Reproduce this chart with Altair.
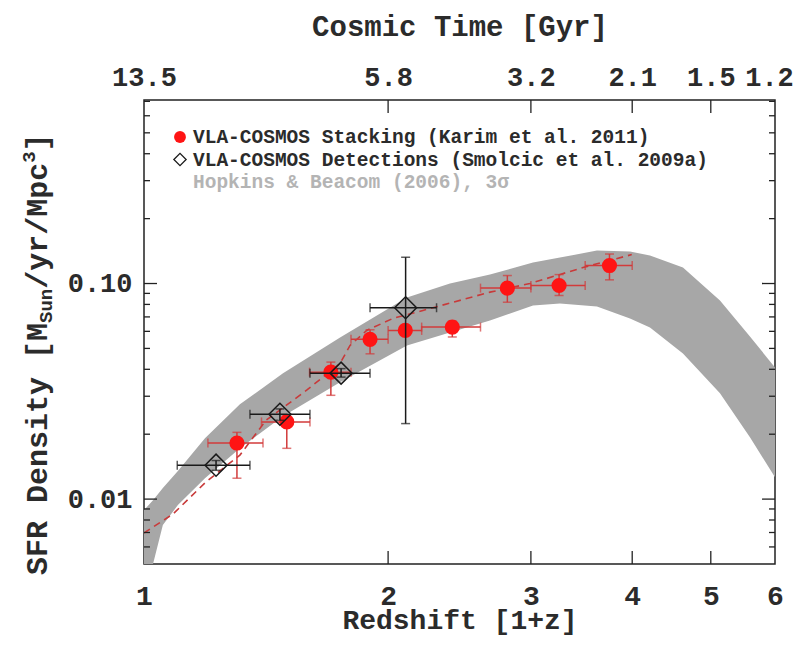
import altair as alt
import pandas as pd

# ---------------- data ----------------
# VLA-COSMOS stacking (red circles)
red_x = [1.302, 1.50, 1.70, 1.90, 2.10, 2.40, 2.806, 3.25, 3.75]
red_y = [0.0182, 0.0228, 0.0388, 0.0551, 0.0606, 0.0628, 0.0952, 0.0979, 0.1212]
red_xlo = [1.199, 1.396, 1.60, 1.80, 2.00, 2.20, 2.60, 3.00, 3.50]
red_xhi = [1.402, 1.602, 1.80, 2.00, 2.20, 2.60, 3.00, 3.50, 4.00]
red_ylo = [0.0125, 0.0172, 0.0303, 0.0472, 0.0575, 0.0565, 0.0819, 0.088, 0.104]
red_yhi = [0.0204, 0.0245, 0.0432, 0.061, 0.064, 0.0669, 0.1089, 0.110, 0.137]

# VLA-COSMOS detections (open diamonds)
det_x = [1.227, 1.471, 1.750, 2.102]
det_y = [0.01437, 0.02474, 0.0384, 0.0772]
det_xlo = [1.099, 1.351, 1.602, 1.900]
det_xhi = [1.351, 1.602, 1.900, 2.295]
det_ylo = [0.0136, 0.0232, 0.0368, 0.0224]
det_yhi = [0.0151, 0.0262, 0.0403, 0.1324]

# dashed fit
fit_x = [1.000, 1.086, 1.192, 1.313, 1.414, 1.587, 1.745, 1.795, 1.882, 2.028, 2.208, 2.671, 2.992, 3.478, 3.995]
fit_y = [0.00696, 0.00853, 0.0120, 0.0160, 0.0232, 0.0320, 0.0426, 0.0516, 0.0606, 0.0689, 0.0750, 0.0912, 0.100, 0.1186, 0.1362]

# Hopkins & Beacom (2006) 3-sigma band
band_x = [1.000, 1.026, 1.055, 1.101, 1.189, 1.313, 1.484, 1.745, 2.110, 2.384, 2.671, 3.018, 3.258, 3.619, 3.975, 4.207, 4.620, 5.132, 5.588, 6.000]
band_hi = [0.00889, 0.00989, 0.01125, 0.01349, 0.01916, 0.02754, 0.03831, 0.05623, 0.0861, 0.1000, 0.1101, 0.1251, 0.1319, 0.1421, 0.1406, 0.1348, 0.1186, 0.0834, 0.0568, 0.0408]
band_lo = [0.00341, 0.00500, 0.00758, 0.00938, 0.01251, 0.01722, 0.02423, 0.03480, 0.05164, 0.05930, 0.06742, 0.07906, 0.08078, 0.07822, 0.06887, 0.06257, 0.04742, 0.03096, 0.01936, 0.01264]

# axes
x_ticks = [1, 2, 3, 4, 5, 6]
x_inner_ticks = [2, 3, 4, 5]
cosmic_time_labels = ["13.5", "5.8", "3.2", "2.1", "1.5", "1.2"]
y_major = [0.01, 0.1]
y_minor = [0.006, 0.007, 0.008, 0.009, 0.02, 0.03, 0.04, 0.05, 0.06, 0.07, 0.08, 0.09,
           0.2, 0.3, 0.4, 0.5, 0.6, 0.7]

legend_labels = ["VLA-COSMOS Stacking (Karim et al. 2011)",
                 "VLA-COSMOS Detections (Smolcic et al. 2009a)",
                 "Hopkins & Beacom (2006), 3\u03c3"]
x_title = "Redshift [1+z]"
top_title = "Cosmic Time [Gyr]"
y_title_parts = ["SFR Density [M", "Sun", "/yr/Mpc", "3", "]"]

# ---------------- layout / style ----------------
W, H = 631, 464
FONT = "Liberation Mono"
TXT = "#2b2b2b"
RED = "#ff1414"
RED_BAR = "#d23a3a"
MAJ, MIN = 13, 6

xs = alt.Scale(type="log", domain=[1, 6], nice=False)
ys = alt.Scale(type="log", domain=[0.005, 0.71], nice=False)

df_band = pd.DataFrame({"x": band_x, "hi": band_hi, "lo": band_lo})
df_fit = pd.DataFrame({"x": fit_x, "y": fit_y})
df_red = pd.DataFrame({"x": red_x, "y": red_y, "xlo": red_xlo, "xhi": red_xhi,
                       "ylo": red_ylo, "yhi": red_yhi})
df_det = pd.DataFrame({"x": det_x, "y": det_y, "xlo": det_xlo, "xhi": det_xhi,
                       "ylo": det_ylo, "yhi": det_yhi})

bottom_axis = alt.Axis(orient="bottom", values=x_ticks, format="d", title=x_title,
                       domain=False, ticks=False, tickSize=0, grid=False,
                       labelFlush=False, labelOverlap=False,
                       labelFontSize=28, labelBaseline="alphabetic", labelPadding=40,
                       titleFontSize=28, titleBaseline="alphabetic", titleY=64)
left_axis = alt.Axis(orient="left", values=y_major, format=".2f", title=None,
                     domain=False, ticks=False, tickSize=0, grid=False,
                     labelFlush=False, labelOverlap=False,
                     labelFontSize=27, labelPadding=12)

expr = ""
for v, lab in zip(x_ticks, cosmic_time_labels):
    expr += f"datum.value == {v} ? '{lab}' : "
expr += "''"
top_axis = alt.Axis(orient="top", values=x_ticks, labelExpr=expr, title=top_title,
                    domain=False, ticks=False, tickSize=0, grid=False,
                    labelFlush=False, labelOverlap=False,
                    labelOffset={"condition": {"test": f"datum.value == {x_ticks[-1]}", "value": -6},
                                 "value": 0},
                    labelFontSize=27, labelPadding=9, titleFontSize=29, titlePadding=22)

X = lambda f, ax=None: alt.X(f, type="quantitative", scale=xs, axis=ax)
Y = lambda f, ax=None: alt.Y(f, type="quantitative", scale=ys, axis=ax)

band = alt.Chart(df_band).mark_area(color="#a7a7a7", clip=True).encode(
    x=X("x", bottom_axis), y=Y("hi", left_axis), y2="lo")

fit = alt.Chart(df_fit).mark_line(color="#c83a3a", strokeDash=[7, 5], strokeWidth=1.6,
                                  clip=True).encode(x=X("x"), y=Y("y"))

red_v = alt.Chart(df_red).mark_rule(color=RED_BAR, strokeWidth=1.5).encode(
    x=X("x"), y=Y("ylo"), y2="yhi")
red_h = alt.Chart(df_red).mark_rule(color=RED_BAR, strokeWidth=1.5).encode(
    x=X("xlo"), x2="xhi", y=Y("y"))
red_cap_lo = alt.Chart(df_red).mark_tick(color=RED_BAR, orient="horizontal", size=9,
                                         thickness=1.5).encode(x=X("x"), y=Y("ylo"))
red_cap_hi = alt.Chart(df_red).mark_tick(color=RED_BAR, orient="horizontal", size=9,
                                         thickness=1.5).encode(x=X("x"), y=Y("yhi"))
red_cap_l = alt.Chart(df_red).mark_tick(color=RED_BAR, orient="vertical", size=9,
                                        thickness=1.5).encode(x=X("xlo"), y=Y("y"))
red_cap_r = alt.Chart(df_red).mark_tick(color=RED_BAR, orient="vertical", size=9,
                                        thickness=1.5).encode(x=X("xhi"), y=Y("y"))
red_pts = alt.Chart(df_red).mark_circle(color=RED, size=230, opacity=1).encode(
    x=X("x"), y=Y("y"))

BLK = "#1a1a1a"
det_v = alt.Chart(df_det).mark_rule(color=BLK, strokeWidth=1.5).encode(
    x=X("x"), y=Y("ylo"), y2="yhi")
det_h = alt.Chart(df_det).mark_rule(color=BLK, strokeWidth=1.5).encode(
    x=X("xlo"), x2="xhi", y=Y("y"))
det_caps = [
    alt.Chart(df_det).mark_tick(color=BLK, orient="horizontal", size=9, thickness=1.5).encode(x=X("x"), y=Y("ylo")),
    alt.Chart(df_det).mark_tick(color=BLK, orient="horizontal", size=9, thickness=1.5).encode(x=X("x"), y=Y("yhi")),
    alt.Chart(df_det).mark_tick(color=BLK, orient="vertical", size=9, thickness=1.5).encode(x=X("xlo"), y=Y("y")),
    alt.Chart(df_det).mark_tick(color=BLK, orient="vertical", size=9, thickness=1.5).encode(x=X("xhi"), y=Y("y")),
]
det_pts = alt.Chart(df_det).mark_point(shape="diamond", filled=False, color=BLK, size=484,
                                       strokeWidth=1.5, opacity=1).encode(x=X("x"), y=Y("y"))

# inward tick marks (frame ticks)
df_xt = pd.DataFrame({"v": x_inner_ticks})
df_ymaj = pd.DataFrame({"v": y_major})
df_ymin = pd.DataFrame({"v": y_minor})
TK = "#222222"
xt_bot = alt.Chart(df_xt).mark_rule(color=TK, strokeWidth=1.3).encode(
    x=X("v"), y=alt.value(H), y2=alt.value(H - MAJ))
xt_top = alt.Chart(df_xt).mark_rule(color=TK, strokeWidth=1.3).encode(
    x=X("v", top_axis), y=alt.value(0), y2=alt.value(MAJ))
yt = []
for d, L in ((df_ymaj, MAJ), (df_ymin, MIN)):
    yt.append(alt.Chart(d).mark_rule(color=TK, strokeWidth=1.3).encode(
        y=Y("v"), x=alt.value(0), x2=alt.value(L)))
    yt.append(alt.Chart(d).mark_rule(color=TK, strokeWidth=1.3).encode(
        y=Y("v"), x=alt.value(W), x2=alt.value(W - L)))

# legend
one = pd.DataFrame({"a": [0]})
LX, LY, LDY = 36, 37, 22.5
leg = [
    alt.Chart(one).mark_circle(color=RED, size=140, opacity=1).encode(
        x=alt.value(LX), y=alt.value(LY)),
    alt.Chart(one).mark_point(shape="diamond", filled=False, color=BLK, size=150,
                              strokeWidth=1.3, opacity=1).encode(
        x=alt.value(LX), y=alt.value(LY + LDY)),
]
leg_colors = [TXT, TXT, "#b4b4b4"]
for i, (lab, col) in enumerate(zip(legend_labels, leg_colors)):
    leg.append(alt.Chart(one).mark_text(align="left", baseline="middle", font=FONT,
                                        fontSize=19.5, fontWeight="bold", color=col).encode(
        x=alt.value(LX + 13), y=alt.value(LY + i * LDY), text=alt.value(lab)))

# y-axis title with sub/superscript, rotated
FS, FSS = 30, 19
base_x = -97
ypos = 475
ytitle = []
specs = [(y_title_parts[0], FS, 0), (y_title_parts[1], FSS, 5), (y_title_parts[2], FS, 0),
         (y_title_parts[3], FSS, -12), (y_title_parts[4], FS, 0)]
for txt, fs, dx in specs:
    ytitle.append(alt.Chart(one).mark_text(angle=270, align="left", baseline="alphabetic",
                                           font=FONT, fontSize=fs, fontWeight="bold",
                                           color=TXT).encode(
        x=alt.value(base_x + dx), y=alt.value(ypos), text=alt.value(txt)))
    ypos -= 0.6 * fs * len(txt)

chart = alt.layer(
    band, fit, red_v, red_h, red_cap_lo, red_cap_hi, red_cap_l, red_cap_r, red_pts,
    det_v, det_h, *det_caps, det_pts, xt_bot, xt_top, *yt, *leg, *ytitle
).resolve_axis(x="independent", y="independent").properties(
    width=W, height=H,
    autosize=alt.AutoSizeParams(type="none"),
    padding={"left": 136, "top": 92, "right": 19, "bottom": 72},
    background="white",
).configure_view(stroke="#222222", strokeWidth=1.5).configure_axis(
    labelFont=FONT, titleFont=FONT, labelFontWeight="bold", titleFontWeight="bold",
    labelColor=TXT, titleColor=TXT)

chart.save("out.html", embed_options={"renderer": "svg", "actions": False})
